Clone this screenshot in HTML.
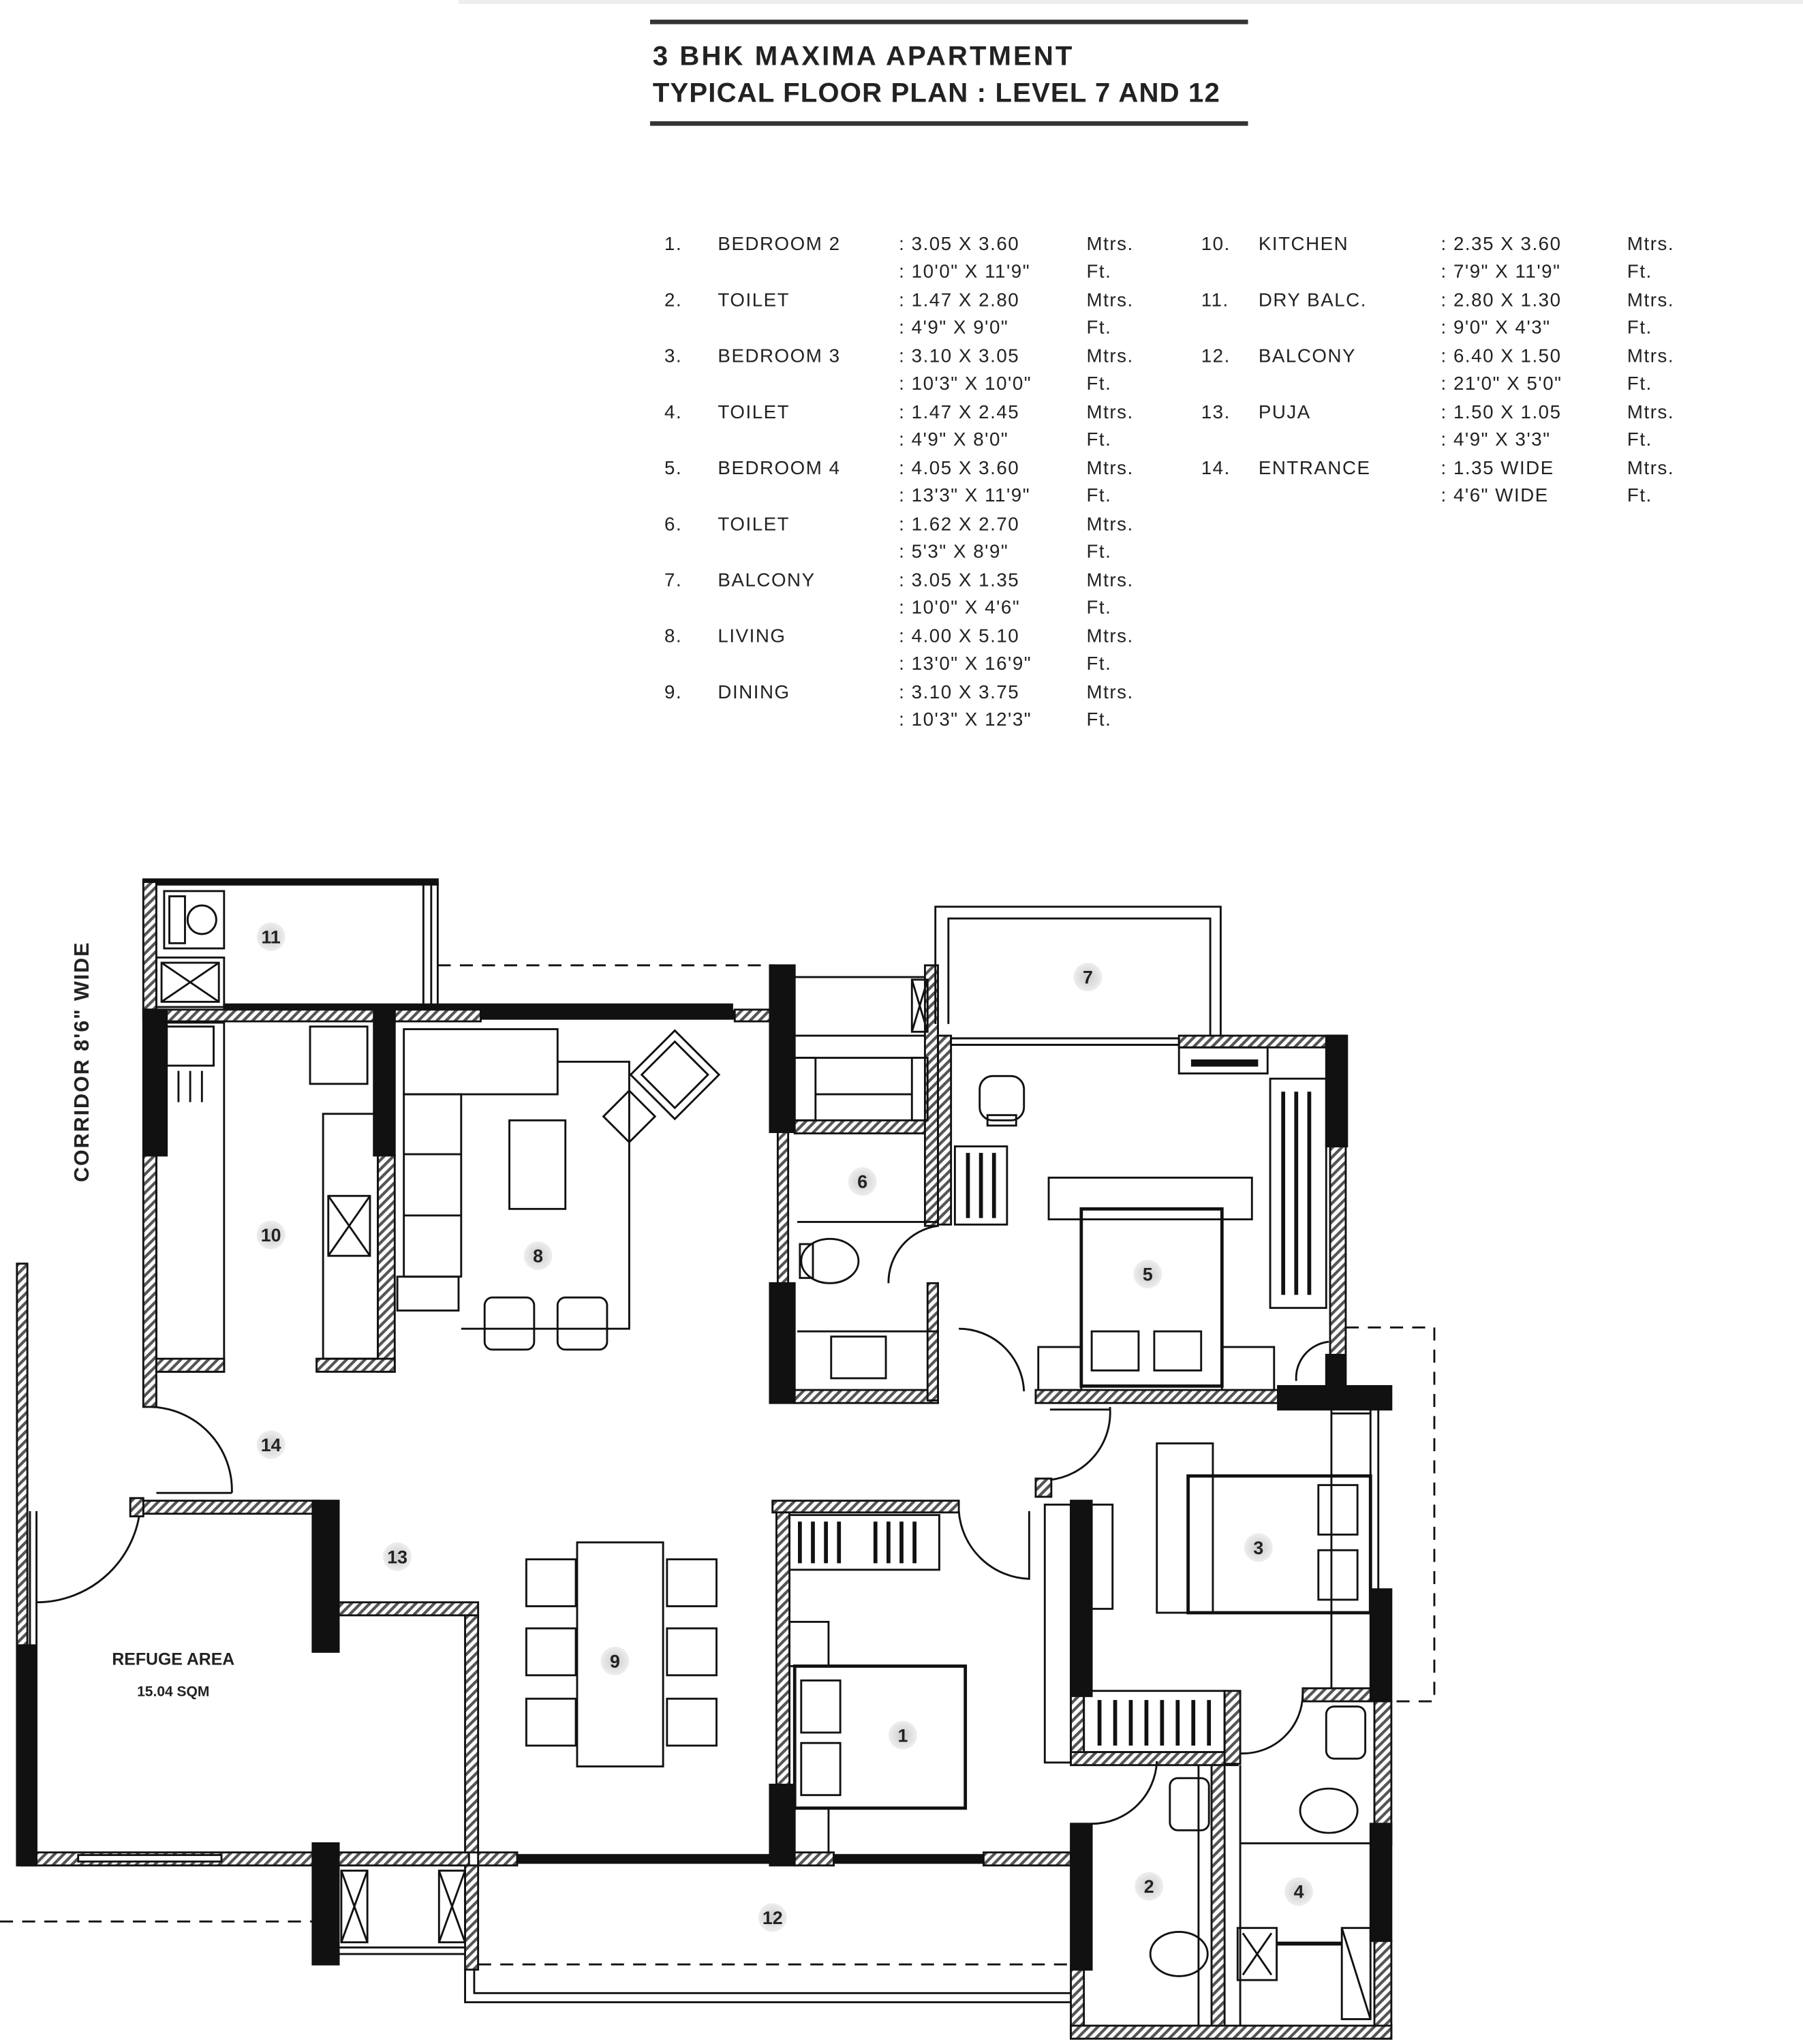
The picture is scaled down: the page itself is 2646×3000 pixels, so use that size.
<!DOCTYPE html>
<html><head><meta charset="utf-8"><style>
html,body{margin:0;padding:0;background:#fff}
svg{display:block}
text{font-family:"Liberation Sans",sans-serif;fill:#222}
</style></head><body>
<svg width="2646" height="3000" viewBox="0 0 1384 1569" xmlns="http://www.w3.org/2000/svg">
<defs>
<pattern id="h" width="5" height="5" patternUnits="userSpaceOnUse" patternTransform="rotate(45)">
<rect width="5" height="5" fill="#fff"/><rect width="2.2" height="5" fill="#555"/></pattern>
<radialGradient id="g"><stop offset="0" stop-color="#ccc"/><stop offset="1" stop-color="#eee"/></radialGradient>
</defs>
<rect x="352" y="0" width="1032" height="3" fill="#eee"/>
<!-- title -->
<rect x="499" y="15" width="459" height="3.5" fill="#333"/>
<rect x="499" y="93" width="459" height="3.5" fill="#333"/>
<text x="501" y="50" font-size="21" font-weight="bold" fill="#333" letter-spacing="1.6">3 BHK MAXIMA APARTMENT</text>
<text x="501" y="78" font-size="21" font-weight="bold" fill="#333" letter-spacing="0.6">TYPICAL FLOOR PLAN : LEVEL 7 AND 12</text>
<!-- table -->
<g font-size="14.5" fill="#333" letter-spacing="0.8">
<g transform="translate(0,192)">
<text x="510" y="0">1.</text><text x="551" y="0">BEDROOM 2</text><text x="690" y="0">: 3.05 X 3.60</text><text x="834" y="0">Mtrs.</text>
<text x="690" y="21">: 10'0" X 11'9"</text><text x="834" y="21">Ft.</text>
<text x="510" y="43">2.</text><text x="551" y="43">TOILET</text><text x="690" y="43">: 1.47 X 2.80</text><text x="834" y="43">Mtrs.</text>
<text x="690" y="64">: 4'9" X 9'0"</text><text x="834" y="64">Ft.</text>
<text x="510" y="86">3.</text><text x="551" y="86">BEDROOM 3</text><text x="690" y="86">: 3.10 X 3.05</text><text x="834" y="86">Mtrs.</text>
<text x="690" y="107">: 10'3" X 10'0"</text><text x="834" y="107">Ft.</text>
<text x="510" y="129">4.</text><text x="551" y="129">TOILET</text><text x="690" y="129">: 1.47 X 2.45</text><text x="834" y="129">Mtrs.</text>
<text x="690" y="150">: 4'9" X 8'0"</text><text x="834" y="150">Ft.</text>
<text x="510" y="172">5.</text><text x="551" y="172">BEDROOM 4</text><text x="690" y="172">: 4.05 X 3.60</text><text x="834" y="172">Mtrs.</text>
<text x="690" y="193">: 13'3" X 11'9"</text><text x="834" y="193">Ft.</text>
<text x="510" y="215">6.</text><text x="551" y="215">TOILET</text><text x="690" y="215">: 1.62 X 2.70</text><text x="834" y="215">Mtrs.</text>
<text x="690" y="236">: 5'3" X 8'9"</text><text x="834" y="236">Ft.</text>
<text x="510" y="258">7.</text><text x="551" y="258">BALCONY</text><text x="690" y="258">: 3.05 X 1.35</text><text x="834" y="258">Mtrs.</text>
<text x="690" y="279">: 10'0" X 4'6"</text><text x="834" y="279">Ft.</text>
<text x="510" y="301">8.</text><text x="551" y="301">LIVING</text><text x="690" y="301">: 4.00 X 5.10</text><text x="834" y="301">Mtrs.</text>
<text x="690" y="322">: 13'0" X 16'9"</text><text x="834" y="322">Ft.</text>
<text x="510" y="344">9.</text><text x="551" y="344">DINING</text><text x="690" y="344">: 3.10 X 3.75</text><text x="834" y="344">Mtrs.</text>
<text x="690" y="365">: 10'3" X 12'3"</text><text x="834" y="365">Ft.</text>
<text x="922" y="0">10.</text><text x="966" y="0">KITCHEN</text><text x="1106" y="0">: 2.35 X 3.60</text><text x="1249" y="0">Mtrs.</text>
<text x="1106" y="21">: 7'9" X 11'9"</text><text x="1249" y="21">Ft.</text>
<text x="922" y="43">11.</text><text x="966" y="43">DRY BALC.</text><text x="1106" y="43">: 2.80 X 1.30</text><text x="1249" y="43">Mtrs.</text>
<text x="1106" y="64">: 9'0" X 4'3"</text><text x="1249" y="64">Ft.</text>
<text x="922" y="86">12.</text><text x="966" y="86">BALCONY</text><text x="1106" y="86">: 6.40 X 1.50</text><text x="1249" y="86">Mtrs.</text>
<text x="1106" y="107">: 21'0" X 5'0"</text><text x="1249" y="107">Ft.</text>
<text x="922" y="129">13.</text><text x="966" y="129">PUJA</text><text x="1106" y="129">: 1.50 X 1.05</text><text x="1249" y="129">Mtrs.</text>
<text x="1106" y="150">: 4'9" X 3'3"</text><text x="1249" y="150">Ft.</text>
<text x="922" y="172">14.</text><text x="966" y="172">ENTRANCE</text><text x="1106" y="172">: 1.35 WIDE</text><text x="1249" y="172">Mtrs.</text>
<text x="1106" y="193">: 4'6" WIDE</text><text x="1249" y="193">Ft.</text>
</g></g>

<!-- PLAN -->
<g stroke="#111" stroke-width="1.5" fill="none">
<path d="M336 741 H595" stroke-dasharray="10,7"/>
<path d="M0 1475 H240" stroke-dasharray="10,7"/>
<path d="M367 1508 H822" stroke-dasharray="10,7"/>
<path d="M1033 1019 H1101 V1306 H1060" stroke-dasharray="10,7"/>
<rect x="110" y="675" width="226" height="4" fill="#111"/>
<path d="M325 679 V773 M331 679 V773 M336 677 V773"/>
<rect x="110" y="677" width="10" height="98" fill="url(#h)"/>
<rect x="126" y="684" width="46" height="44"/><circle cx="155" cy="706" r="11"/><rect x="130" y="688" width="12" height="36"/>
<rect x="120" y="735" width="52" height="38"/><path d="M124 739 L168 769 M168 739 L124 769"/><rect x="124" y="739" width="44" height="30"/>
<rect x="172" y="771" width="390" height="4" fill="#111"/>
<rect x="110" y="775" width="185" height="9" fill="url(#h)"/>
<rect x="303" y="775" width="66" height="9" fill="url(#h)"/>
<rect x="369" y="776" width="195" height="6" fill="#111"/>
<rect x="564" y="775" width="31" height="9" fill="url(#h)"/>
<rect x="110" y="775" width="18" height="112" fill="#111"/>
<rect x="110" y="887" width="10" height="193" fill="url(#h)"/>
<rect x="120" y="785" width="52" height="268"/>
<rect x="120" y="1043" width="52" height="10" fill="url(#h)"/>
<rect x="128" y="788" width="36" height="30"/><path d="M137 822 V846 M146 822 V846 M155 822 V846"/>
<rect x="287" y="773" width="16" height="114" fill="#111"/>
<rect x="290" y="887" width="13" height="166" fill="url(#h)"/>
<rect x="243" y="1043" width="60" height="10" fill="url(#h)"/>
<rect x="248" y="855" width="42" height="188"/>
<rect x="252" y="918" width="32" height="46"/><path d="M252 918 L284 964 M284 918 L252 964"/>
<rect x="238" y="788" width="44" height="44"/>
<rect x="310" y="790" width="118" height="50"/>
<rect x="310" y="840" width="44" height="140"/>
<path d="M310 886 H354 M310 933 H354"/>
<rect x="305" y="980" width="47" height="26"/>
<rect x="391" y="860" width="43" height="68"/>
<path d="M428 815 H483 V1020 H354"/>
<rect x="372" y="996" width="38" height="40" rx="6"/><rect x="428" y="996" width="38" height="40" rx="6"/>
<g transform="translate(518,825) rotate(-45)"><rect x="-24" y="-24" width="48" height="48"/><rect x="-18" y="-18" width="36" height="36"/></g>
<g transform="translate(483,857) rotate(-45)"><rect x="-14" y="-14" width="28" height="28"/></g>
<rect x="591" y="741" width="19" height="128" fill="#111"/>
<rect x="591" y="985" width="19" height="92" fill="#111"/>
<rect x="597" y="869" width="8" height="116" fill="url(#h)"/>
<rect x="610" y="1067" width="110" height="10" fill="url(#h)"/>
<rect x="610" y="860" width="110" height="10" fill="url(#h)"/>
<rect x="710" y="741" width="10" height="200" fill="url(#h)"/>
<rect x="712" y="985" width="8" height="90" fill="url(#h)"/>
<path d="M610 750 H710 M610 795 H710 M610 812 H710"/>
<rect x="700" y="752" width="12" height="40"/><path d="M700 752 L712 792 M712 752 L700 792"/>
<rect x="610" y="812" width="16" height="48"/><rect x="700" y="812" width="12" height="48"/>
<path d="M626 840 H700 M612 938 H720 M612 1022 H720"/>
<ellipse cx="637" cy="968" rx="22" ry="17"/><rect x="614" y="955" width="10" height="26"/>
<rect x="638" y="1026" width="42" height="32"/>
<path d="M720 941 A44 44 0 0 0 682 985 "/>
<path d="M718 786 V696 H937 V795 M728 786 V705 H929 V795"/>
<rect x="720" y="795" width="10" height="145" fill="url(#h)"/>
<rect x="730" y="797" width="175" height="5" fill="#fff"/><path d="M730 797 H905 M730 802 H905"/>
<rect x="905" y="795" width="128" height="9" fill="url(#h)"/>
<rect x="1018" y="795" width="16" height="85" fill="#111"/>
<rect x="1021" y="880" width="12" height="185" fill="url(#h)"/>
<rect x="905" y="804" width="68" height="20"/><rect x="915" y="814" width="50" height="4" fill="#111"/>
<rect x="975" y="828" width="43" height="176"/>
<path d="M985 838 V994 M995 838 V994 M1005 838 V994" stroke-width="3"/>
<rect x="752" y="826" width="34" height="34" rx="10"/><rect x="758" y="856" width="22" height="8"/>
<rect x="733" y="880" width="40" height="60"/><path d="M743 885 V935 M753 885 V935 M763 885 V935" stroke-width="3"/>
<rect x="805" y="904" width="156" height="32"/>
<rect x="830" y="928" width="108" height="136" stroke-width="2.5"/>
<rect x="838" y="1022" width="36" height="30"/><rect x="886" y="1022" width="36" height="30"/>
<rect x="797" y="1034" width="33" height="34"/><rect x="938" y="1034" width="40" height="34"/>
<rect x="795" y="1067" width="186" height="10" fill="url(#h)"/>
<rect x="981" y="1064" width="87" height="18" fill="#111"/>
<rect x="1018" y="1040" width="14" height="24" fill="#111"/>
<path d="M736 1020 A50 50 0 0 1 786 1068 M1020 1030 A28 28 0 0 0 995 1060"/>
<path d="M1052 1082 V1220 M1058 1082 V1220 M1022 1082 V1306 M1022 1085 H1052"/>
<rect x="1052" y="1220" width="16" height="86" fill="#111"/>
<rect x="1055" y="1306" width="13" height="110" fill="url(#h)"/>
<rect x="1052" y="1400" width="16" height="90" fill="#111"/>
<rect x="1055" y="1490" width="13" height="75" fill="url(#h)"/>
<rect x="888" y="1108" width="43" height="130"/>
<rect x="912" y="1133" width="140" height="105" stroke-width="2.5"/>
<rect x="1012" y="1140" width="30" height="38"/><rect x="1012" y="1190" width="30" height="38"/>
<rect x="795" y="1135" width="12" height="14" fill="url(#h)"/>
<path d="M806 1082 H852 M852 1080 A52 52 0 0 1 806 1136"/>
<rect x="822" y="1152" width="16" height="150" fill="#111"/>
<rect x="802" y="1155" width="20" height="198"/>
<rect x="838" y="1155" width="16" height="80"/>
<rect x="822" y="1302" width="10" height="50" fill="url(#h)"/>
<rect x="822" y="1345" width="128" height="10" fill="url(#h)"/>
<rect x="940" y="1298" width="12" height="56" fill="url(#h)"/>
<rect x="832" y="1298" width="108" height="47"/><path d="M844 1305 V1340 M856 1305 V1340 M868 1305 V1340 M880 1305 V1340 M892 1305 V1340 M904 1305 V1340 M916 1305 V1340 M928 1305 V1340" stroke-width="3"/>
<path d="M952 1346 A46 46 0 0 0 1000 1300"/>
<rect x="1000" y="1296" width="52" height="10" fill="url(#h)"/>
<rect x="593" y="1152" width="143" height="9" fill="url(#h)"/>
<rect x="596" y="1161" width="10" height="210" fill="url(#h)"/>
<rect x="591" y="1370" width="19" height="62" fill="#111"/>
<rect x="606" y="1163" width="115" height="42"/><path d="M614 1168 V1200 M624 1168 V1200 M634 1168 V1200 M644 1168 V1200 M672 1168 V1200 M682 1168 V1200 M692 1168 V1200 M702 1168 V1200" stroke-width="3"/>
<path d="M736 1160 A56 56 0 0 0 790 1212 V1160"/>
<rect x="606" y="1245" width="30" height="34"/>
<rect x="610" y="1279" width="131" height="109" stroke-width="2.5"/>
<rect x="615" y="1290" width="30" height="40"/><rect x="615" y="1338" width="30" height="40"/>
<path d="M636 1388 V1422"/>
<rect x="15" y="1422" width="225" height="10" fill="url(#h)"/>
<rect x="60" y="1424" width="110" height="5" fill="#fff"/>
<rect x="260" y="1422" width="100" height="10" fill="url(#h)"/>
<rect x="367" y="1422" width="30" height="10" fill="url(#h)"/>
<rect x="397" y="1424" width="195" height="6" fill="#111"/>
<rect x="610" y="1422" width="30" height="10" fill="url(#h)"/>
<rect x="640" y="1424" width="115" height="6" fill="#111"/>
<rect x="755" y="1422" width="67" height="10" fill="url(#h)"/>
<rect x="357" y="1432" width="10" height="80" fill="url(#h)"/>
<path d="M357 1512 V1537 H822 M364 1512 V1530 H822"/>
<rect x="240" y="1415" width="20" height="93" fill="#111"/>
<path d="M260 1495 H357 M260 1500 H357"/>
<rect x="262" y="1436" width="20" height="55"/><path d="M262 1436 L282 1491 M282 1436 L262 1491"/>
<rect x="337" y="1436" width="20" height="55"/><path d="M337 1436 L357 1491 M357 1436 L337 1491"/>
<rect x="822" y="1400" width="16" height="112" fill="#111"/>
<rect x="822" y="1512" width="10" height="53" fill="url(#h)"/>
<rect x="822" y="1555" width="246" height="10" fill="url(#h)"/>
<rect x="930" y="1355" width="10" height="200" fill="url(#h)"/>
<path d="M920 1355 V1555 M952 1355 V1555"/>
<path d="M838 1400 A50 50 0 0 0 888 1352"/>
<rect x="898" y="1365" width="30" height="40" rx="6"/>
<ellipse cx="905" cy="1500" rx="22" ry="17"/>
<rect x="950" y="1480" width="30" height="40"/><path d="M954 1484 L976 1516 M976 1484 L954 1516"/>
<path d="M980 1492 H1030" stroke-width="3"/>
<rect x="1030" y="1480" width="22" height="70"/><path d="M1030 1480 L1052 1550"/>
<path d="M952 1415 H1052"/>
<rect x="1018" y="1310" width="30" height="40" rx="6"/>
<ellipse cx="1020" cy="1390" rx="22" ry="17"/>
<rect x="13" y="970" width="8" height="293" fill="url(#h)"/>
<rect x="13" y="1263" width="15" height="169" fill="#111"/>
<path d="M23 1160 V1263 M28 1160 V1263"/>
<path d="M28 1230 A80 80 0 0 0 108 1152"/>
<rect x="110" y="1152" width="135" height="10" fill="url(#h)"/>
<rect x="100" y="1150" width="10" height="14" fill="url(#h)"/>
<rect x="240" y="1152" width="20" height="116" fill="#111"/>
<rect x="260" y="1230" width="107" height="10" fill="url(#h)"/>
<rect x="357" y="1240" width="10" height="182" fill="url(#h)"/>
<path d="M120 1146 H178 M116 1080 A64 64 0 0 1 178 1146"/>
<rect x="443" y="1184" width="66" height="172"/>
<rect x="404" y="1197" width="38" height="36"/><rect x="404" y="1250" width="38" height="36"/><rect x="404" y="1304" width="38" height="36"/>
<rect x="512" y="1197" width="38" height="36"/><rect x="512" y="1250" width="38" height="36"/><rect x="512" y="1304" width="38" height="36"/>
</g>
<g font-size="14" font-weight="bold" text-anchor="middle" fill="#444">
<circle cx="208" cy="719" r="11" fill="url(#g)"/><text x="208" y="724">11</text>
<circle cx="835" cy="750" r="11" fill="url(#g)"/><text x="835" y="755">7</text>
<circle cx="662" cy="907" r="11" fill="url(#g)"/><text x="662" y="912">6</text>
<circle cx="208" cy="948" r="11" fill="url(#g)"/><text x="208" y="953">10</text>
<circle cx="413" cy="964" r="11" fill="url(#g)"/><text x="413" y="969">8</text>
<circle cx="881" cy="978" r="11" fill="url(#g)"/><text x="881" y="983">5</text>
<circle cx="208" cy="1109" r="11" fill="url(#g)"/><text x="208" y="1114">14</text>
<circle cx="305" cy="1195" r="11" fill="url(#g)"/><text x="305" y="1200">13</text>
<circle cx="966" cy="1188" r="11" fill="url(#g)"/><text x="966" y="1193">3</text>
<circle cx="472" cy="1275" r="11" fill="url(#g)"/><text x="472" y="1280">9</text>
<circle cx="693" cy="1332" r="11" fill="url(#g)"/><text x="693" y="1337">1</text>
<circle cx="882" cy="1448" r="11" fill="url(#g)"/><text x="882" y="1453">2</text>
<circle cx="997" cy="1452" r="11" fill="url(#g)"/><text x="997" y="1457">4</text>
<circle cx="593" cy="1472" r="11" fill="url(#g)"/><text x="593" y="1477">12</text>
</g>
<text x="133" y="1278" font-size="13" font-weight="bold" text-anchor="middle" fill="#333">REFUGE AREA</text>
<text x="133" y="1302" font-size="11" font-weight="bold" text-anchor="middle" fill="#333">15.04 SQM</text>
<text transform="translate(68,815) rotate(-90)" font-size="16" font-weight="bold" text-anchor="middle" fill="#333" letter-spacing="1">CORRIDOR 8'6" WIDE</text>
</svg>
</body></html>
